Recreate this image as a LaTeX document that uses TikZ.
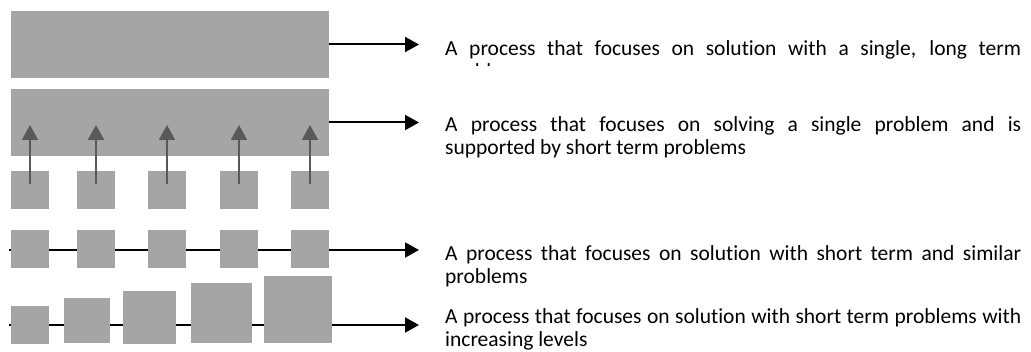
\documentclass[tikz,border=0pt]{standalone}
\usepackage{fontspec}
\setmainfont{Carlito}[Ligatures=NoCommon]
\usetikzlibrary{arrows.meta,calc}
\definecolor{boxgray}{HTML}{A5A5A5}
\definecolor{linkgray}{HTML}{595959}
\begin{document}
\begin{tikzpicture}[x=1pt,y=-1pt,
  block/.style={fill=boxgray,draw=none,inner sep=0pt,outer sep=0pt},
  sq/.style={block,minimum width=#1,minimum height=#1},
  flow/.style={draw=black,line width=2pt,-{Triangle[length=14pt,width=15pt]}},
  support/.style={draw=linkgray,line width=2pt,-{Triangle[length=15pt,width=16pt]}},
  caption/.style={anchor=base west,inner sep=0pt,font=\fontsize{21.5}{22.5}\selectfont}]
\useasboundingbox (0,0) rectangle (1031,352);

% long-term process
\node[block,minimum width=318,minimum height=67] (r1) at (170,44.5) {};
\coordinate (e1) at (419,44.5);
\draw[flow] (r1.east) -- (e1);

% single problem supported by short-term problems
\node[block,minimum width=318,minimum height=67] (r2) at (170,122.5) {};
\coordinate (e2) at (419,122.5);
\draw[flow] (r2.east) -- (e2);
\foreach \i/\x in {1/30,2/96,3/167,4/239,5/310}{
  \node[sq=38] (s2\i) at (\x,190) {};
  \draw[support] ($(s2\i.center)+(0,-6)$) -- ($(s2\i.center)+(0,-65)$);
}

% short, similar problems
\coordinate (b3) at (9,250);
\coordinate (e3) at (419,250);
\draw[flow] (b3) -- (e3);
\foreach \i/\x in {1/30,2/96,3/167,4/239,5/310}{
  \node[sq=38] (s3\i) at (\x,249) {};
}

% short problems of increasing level
\coordinate (b4) at (9,325);
\coordinate (e4) at (419,325);
\draw[flow] (b4) -- (e4);
\node[block,minimum width=38,minimum height=38] (s41) at (30,325) {};
\node[block,minimum width=46,minimum height=45] (s42) at (87,320.5) {};
\node[block,minimum width=53,minimum height=53] (s43) at (149.5,317.5) {};
\node[block,minimum width=61,minimum height=60] (s44) at (221.5,313) {};
\node[block,minimum width=68,minimum height=67] (s45) at (298,309.5) {};

% descriptions
\begin{scope}
  \clip (440,0) rectangle (1031,66);
  \node[caption] (t1) at (445,56) {\parbox[t]{576pt}{A process that focuses on solution with a single, long term\linebreak problem}};
\end{scope}
\node[caption] (t2) at (445,132) {\parbox[t]{576pt}{A process that focuses on solving a single problem and is\linebreak supported by short term problems}};
\node[caption] (t3) at (445,261) {\parbox[t]{576pt}{A process that focuses on solution with short term and similar\linebreak problems}};
\node[caption] (t4) at (445,324) {\parbox[t]{576pt}{A process that focuses on solution with short term problems with\linebreak increasing levels}};
\end{tikzpicture}
\end{document}
